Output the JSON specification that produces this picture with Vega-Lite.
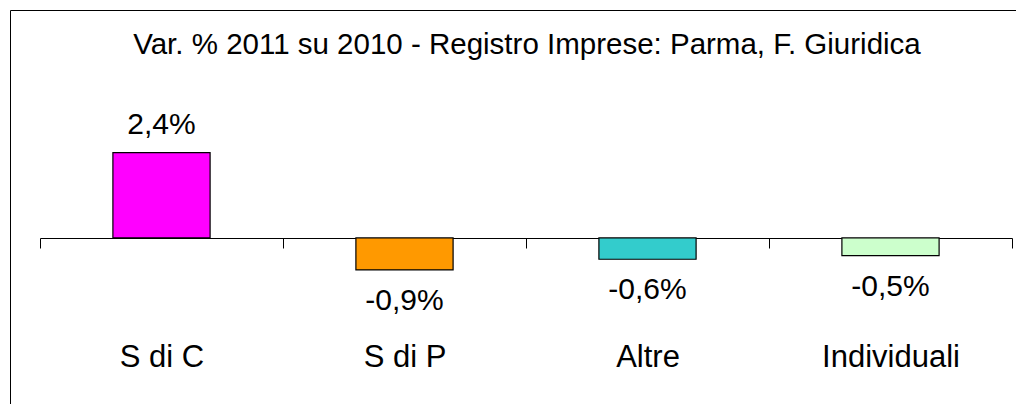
{
  "$schema": "https://vega.github.io/schema/vega-lite/v6.json",
  "autosize": {"type": "none"},
  "padding": {"left": 10, "top": 10, "right": 0, "bottom": 0},
  "width": 1034,
  "height": 420,
  "background": "white",
  "config": {
    "view": {"stroke": "black", "strokeWidth": 1},
    "font": "Liberation Sans"
  },
  "title": {
    "text": "Var. % 2011 su 2010 - Registro Imprese: Parma, F. Giuridica",
    "fontSize": 29.5,
    "fontWeight": "normal",
    "color": "black",
    "font": "Liberation Sans",
    "anchor": "middle",
    "baseline": "alphabetic",
    "offset": -73
  },
  "data": {
    "values": [
      {"categoria": "S di C", "var": 2.4, "label": "2,4%"},
      {"categoria": "S di P", "var": -0.9, "label": "-0,9%"},
      {"categoria": "Altre", "var": -0.6, "label": "-0,6%"},
      {"categoria": "Individuali", "var": -0.5, "label": "-0,5%"}
    ]
  },
  "encoding": {
    "x": {
      "field": "categoria",
      "type": "nominal",
      "sort": null,
      "scale": {"range": [30, 1002], "paddingInner": 0, "paddingOuter": 0},
      "axis": {
        "title": null,
        "orient": "bottom",
        "offset": -192,
        "tickBand": "extent",
        "domainColor": "black",
        "domainWidth": 1,
        "tickColor": "black",
        "tickSize": 10,
        "tickWidth": 1,
        "labelFont": "Liberation Sans",
        "labelFontSize": 31,
        "labelColor": "black",
        "labelAngle": 0,
        "labelPadding": 94,
        "grid": false
      }
    },
    "y": {
      "field": "var",
      "type": "quantitative",
      "scale": {"domain": [-5.41, 6.42], "nice": false, "zero": false},
      "axis": null
    }
  },
  "layer": [
    {
      "mark": {"type": "bar", "width": {"band": 0.4}, "stroke": "black", "strokeWidth": 1.2},
      "encoding": {
        "color": {
          "field": "categoria",
          "type": "nominal",
          "sort": null,
          "scale": {"domain": ["S di C", "S di P", "Altre", "Individuali"], "range": ["#FF00FF", "#FF9900", "#33CCCC", "#CCFFCC"]},
          "legend": null
        }
      }
    },
    {
      "transform": [{"filter": "datum.var >= 0"}],
      "mark": {"type": "text", "baseline": "alphabetic", "dy": -19, "fontSize": 30, "font": "Liberation Sans", "color": "black"},
      "encoding": {"text": {"field": "label"}}
    },
    {
      "transform": [{"filter": "datum.var < 0"}],
      "mark": {"type": "text", "baseline": "alphabetic", "dy": 40, "fontSize": 30, "font": "Liberation Sans", "color": "black"},
      "encoding": {"text": {"field": "label"}}
    }
  ]
}
